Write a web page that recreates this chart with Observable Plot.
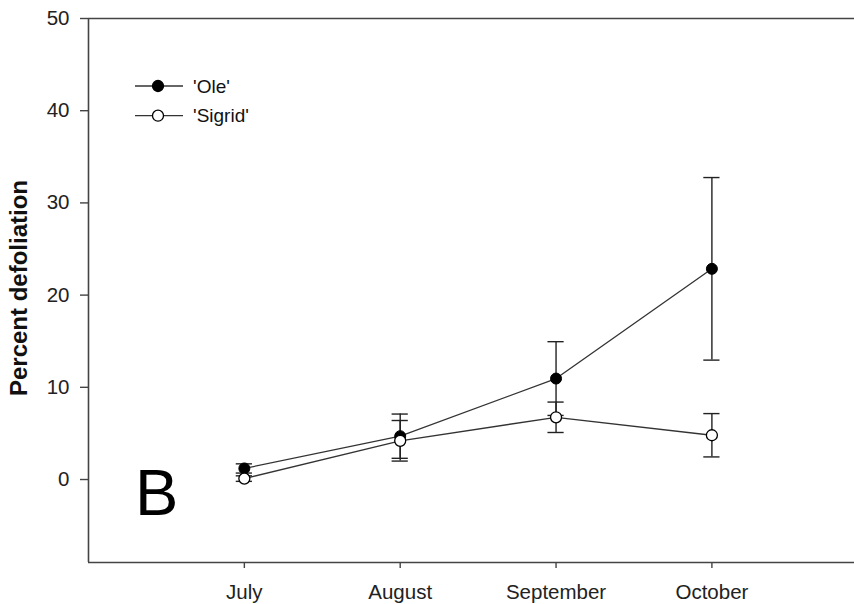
<!DOCTYPE html>
<html>
<head>
<meta charset="utf-8">
<script src="https://cdn.jsdelivr.net/npm/d3@7"></script>
<script src="https://cdn.jsdelivr.net/npm/@observablehq/plot@0.6"></script>
<style>
  html, body { margin: 0; padding: 0; background: #fff; }
  svg { display: block; }
</style>
</head>
<body>
<div id="chart"></div>
<script>
// ---- data ----
const months = ["July", "August", "September", "October"];
const monthPos = [1, 2, 3, 4];
const oleMean = [1.2, 4.7, 10.95, 22.85];
const oleErr = [0.5, 2.4, 4.0, 9.9];
const sigridMean = [0.1, 4.2, 6.75, 4.8];
const sigridErr = [0.3, 2.2, 1.65, 2.35];
const yTicks = [0, 10, 20, 30, 40, 50];
const xDomain = [0, 4.915];
const yDomain = [-9, 50];
const seriesNames = ["'Ole'", "'Sigrid'"];

const ole = months.map((m, i) => ({x: monthPos[i], mean: oleMean[i], lo: oleMean[i] - oleErr[i], hi: oleMean[i] + oleErr[i]}));
const sigrid = months.map((m, i) => ({x: monthPos[i], mean: sigridMean[i], lo: sigridMean[i] - sigridErr[i], hi: sigridMean[i] + sigridErr[i]}));

const font = "'Liberation Sans', Arial, sans-serif";
const ink = "#222";
const cap = 0.052; // half-width of error caps in x units

function errMarks(data) {
  return [
    Plot.ruleX(data, {x: "x", y1: "lo", y2: "hi", stroke: ink, strokeWidth: 1.4}),
    Plot.ruleY(data, {y: "hi", x1: d => d.x - cap, x2: d => d.x + cap, stroke: ink, strokeWidth: 1.4}),
    Plot.ruleY(data, {y: "lo", x1: d => d.x - cap, x2: d => d.x + cap, stroke: ink, strokeWidth: 1.4})
  ];
}

const chart = Plot.plot({
  width: 854,
  height: 604,
  marginLeft: 88,
  marginRight: 0,
  marginTop: 18,
  marginBottom: 42,
  style: {fontFamily: font, fontSize: "20.5px", color: ink, background: "#fff", overflow: "visible"},
  x: {domain: xDomain, label: null},
  y: {domain: yDomain, label: null},
  marks: [
    Plot.axisY({ticks: yTicks, tickSize: 8, tickPadding: 11, fontSize: 20.5, label: null, stroke: "#444", strokeWidth: 1.4}),
    Plot.axisX({ticks: monthPos, tickFormat: d => months[d - 1], tickSize: 6, tickPadding: 16, fontSize: 20.5, label: null, stroke: "#444", strokeWidth: 1.4}),
    Plot.ruleX([xDomain[0]], {stroke: "#444", strokeWidth: 1.6}),
    Plot.ruleY([yDomain[0], yDomain[1]], {stroke: "#444", strokeWidth: 1.6}),
    ...errMarks(ole),
    ...errMarks(sigrid),
    Plot.line(ole, {x: "x", y: "mean", stroke: "#333", strokeWidth: 1.3}),
    Plot.line(sigrid, {x: "x", y: "mean", stroke: "#333", strokeWidth: 1.3}),
    Plot.dot(ole, {x: "x", y: "mean", r: 5.5, fill: "#000", stroke: "#000", strokeWidth: 1}),
    Plot.dot(sigrid, {x: "x", y: "mean", r: 5.5, fill: "#fff", stroke: "#000", strokeWidth: 1.3})
  ]
});

document.getElementById("chart").appendChild(chart);

// ---- annotations: y label, legend, panel letter ----
const svg = d3.select(chart);
svg.append("text")
  .attr("transform", "translate(27,288) rotate(-90)")
  .attr("text-anchor", "middle")
  .attr("font-family", font)
  .attr("font-size", 24)
  .attr("font-weight", "bold")
  .attr("fill", "#111")
  .text("Percent defoliation");

const legendRows = [
  {name: seriesNames[0], y: 86, fill: "#000"},
  {name: seriesNames[1], y: 115.7, fill: "#fff"}
];
const lg = svg.append("g").attr("text-anchor", "start");
legendRows.forEach(r => {
  lg.append("line").attr("x1", 135).attr("x2", 183).attr("y1", r.y).attr("y2", r.y)
    .attr("stroke", "#333").attr("stroke-width", 1.3);
  lg.append("circle").attr("cx", 158).attr("cy", r.y).attr("r", 5.5)
    .attr("fill", r.fill).attr("stroke", "#000").attr("stroke-width", 1.3);
  lg.append("text").attr("x", 193).attr("y", r.y).attr("dy", "0.35em")
    .attr("text-anchor", "start")
    .attr("font-family", font).attr("font-size", 19).attr("fill", "#111").text(r.name);
});

svg.append("text")
  .attr("x", 135).attr("y", 515)
  .attr("text-anchor", "start")
  .attr("font-family", font)
  .attr("font-size", 65)
  .attr("fill", "#000")
  .text("B");
</script>
</body>
</html>
